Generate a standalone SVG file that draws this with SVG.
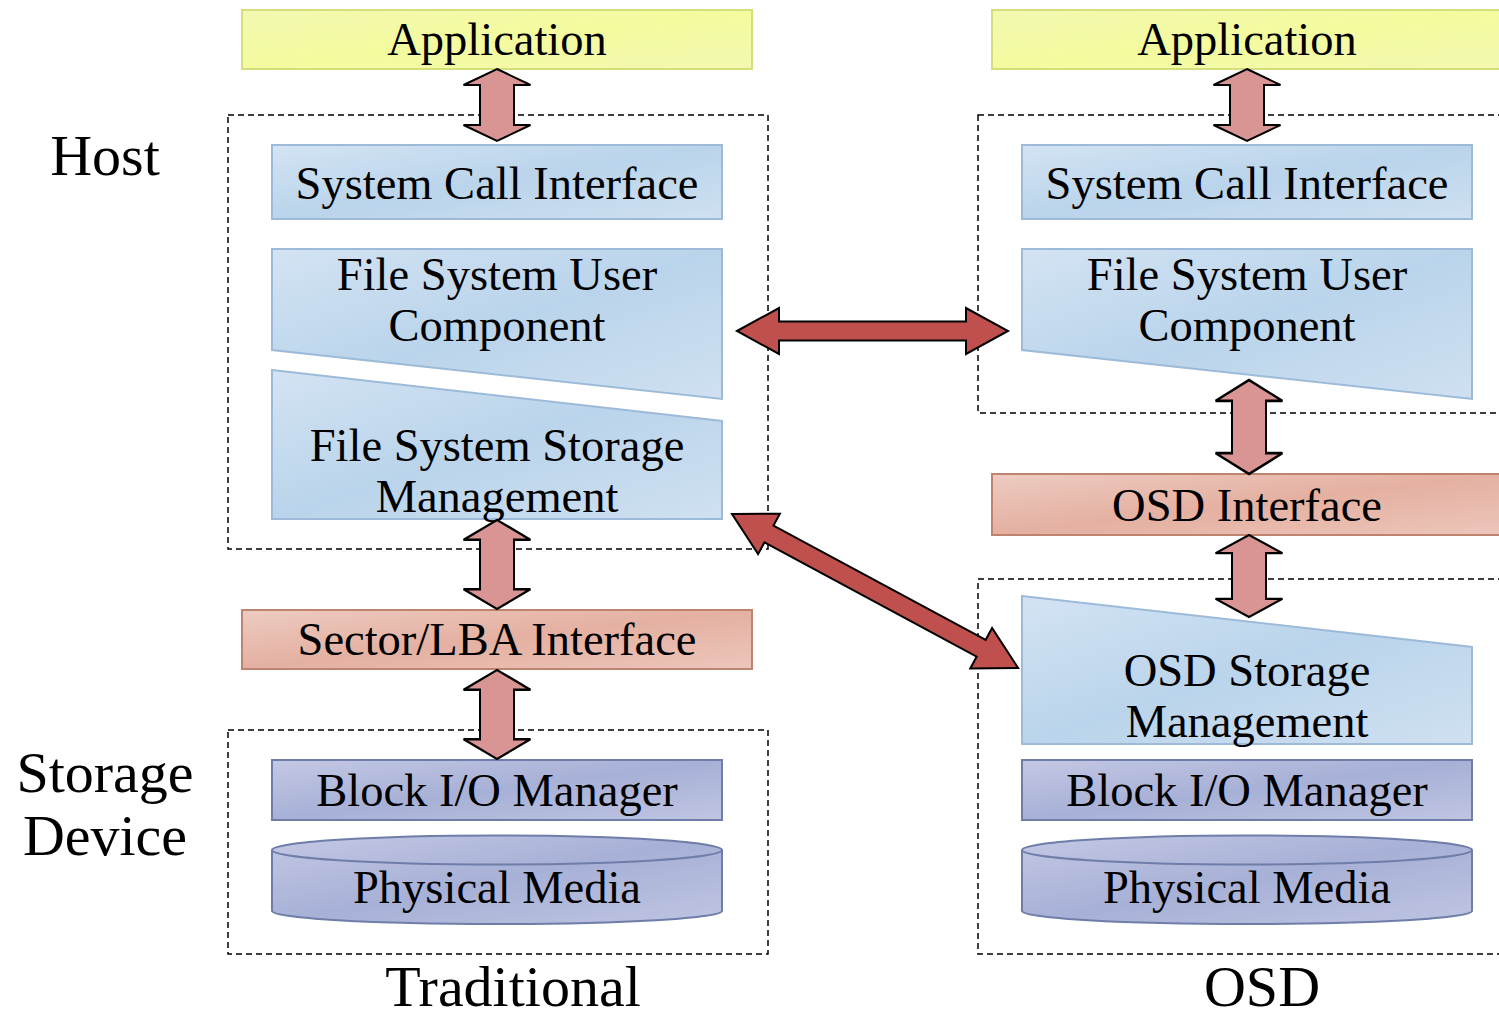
<svg xmlns="http://www.w3.org/2000/svg" width="1499" height="1020" viewBox="0 0 1499 1020">
<defs>
<linearGradient id="gBlue" x1="0" y1="0" x2="1" y2="1">
<stop offset="0" stop-color="#d3e3f3"/><stop offset="0.5" stop-color="#bad4eb"/><stop offset="1" stop-color="#cfe0f1"/>
</linearGradient>
<linearGradient id="gSalmon" x1="0" y1="0" x2="1" y2="1">
<stop offset="0" stop-color="#edcbc1"/><stop offset="0.5" stop-color="#e4b0a1"/><stop offset="1" stop-color="#edc6bb"/>
</linearGradient>
<linearGradient id="gPurple" x1="0" y1="0" x2="1" y2="1">
<stop offset="0" stop-color="#c3c8e4"/><stop offset="0.5" stop-color="#a7b0d6"/><stop offset="1" stop-color="#bfc5e2"/>
</linearGradient>
<linearGradient id="gYellow" x1="0" y1="0" x2="1" y2="1">
<stop offset="0" stop-color="#f2f8b0"/><stop offset="0.5" stop-color="#f4fb9e"/><stop offset="1" stop-color="#f2f8b0"/>
</linearGradient>
<polygon id="vArrow" points="0,0 33.5,16 17,16 17,56 33.5,56 0,72 -33.5,56 -17,56 -17,16 -33.5,16"/>
</defs>
<style>
text{font-family:"Liberation Serif","Times New Roman",serif;fill:#000;text-anchor:middle}
.t{font-size:46.5px}
.lbl{font-size:58px}
.dash{fill:none;stroke:#000;stroke-width:1.5;stroke-dasharray:6 4}
.blue{fill:url(#gBlue);stroke:#9dbbd8;stroke-width:2}
.salmon{fill:url(#gSalmon);stroke:#bf846f;stroke-width:2}
.purple{fill:url(#gPurple);stroke:#6f7da9;stroke-width:2}
.yellow{fill:url(#gYellow);stroke:#d4df7c;stroke-width:2}
.va{fill:#d99594;stroke:#000;stroke-width:2;stroke-linejoin:miter}
.ra{fill:#c0504d;stroke:#000;stroke-width:2;stroke-linejoin:miter}
</style>

<g id="labels">
<text class="lbl" x="105" y="175">Host</text>
<text class="lbl" x="105" y="792">Storage</text>
<text class="lbl" x="105" y="855">Device</text>
<text class="lbl" x="513" y="1006">Traditional</text>
<text class="lbl" x="1262" y="1006">OSD</text>
</g>

<g id="containers">
<rect id="host-trad" class="dash" x="228" y="115" width="540" height="434"/>
<rect id="dev-trad" class="dash" x="228" y="730" width="540" height="224"/>
<rect id="host-osd" class="dash" x="978" y="115" width="560" height="298"/>
<rect id="dev-osd" class="dash" x="978" y="579" width="560" height="375"/>
</g>

<g id="trad-app"><rect class="yellow" x="242" y="10" width="510" height="59"/><text class="t" x="497" y="55">Application</text></g>
<g id="trad-sci"><rect class="blue" x="272" y="145" width="450" height="74"/><text class="t" x="497" y="199">System Call Interface</text></g>
<g id="trad-fsuc"><polygon class="blue" points="272,249 722,249 722,399 272,350"/><text class="t" x="497" y="290">File System User</text><text class="t" x="497" y="341">Component</text></g>
<g id="trad-fssm"><polygon class="blue" points="272,370 722,421 722,519 272,519"/><text class="t" x="497" y="461">File System Storage</text><text class="t" x="497" y="512">Management</text></g>
<g id="trad-lba"><rect class="salmon" x="242" y="610" width="510" height="59"/><text class="t" x="497" y="655">Sector/LBA Interface</text></g>
<g id="trad-bio"><rect class="purple" x="272" y="760" width="450" height="60"/><text class="t" x="497" y="806">Block I/O Manager</text></g>
<g id="trad-pm"><path class="purple" d="M272,850 A225,14.5 0 0 1 722,850 L722,911 A225,13 0 0 1 272,911 Z"/><path d="M272,850 A225,14.5 0 0 0 722,850" fill="none" stroke="#6f7da9" stroke-width="2"/><text class="t" x="497" y="903">Physical Media</text></g>

<g id="osd-app"><rect class="yellow" x="992" y="10" width="512" height="59"/><text class="t" x="1247" y="55">Application</text></g>
<g id="osd-sci"><rect class="blue" x="1022" y="145" width="450" height="74"/><text class="t" x="1247" y="199">System Call Interface</text></g>
<g id="osd-fsuc"><polygon class="blue" points="1022,249 1472,249 1472,399 1022,350"/><text class="t" x="1247" y="290">File System User</text><text class="t" x="1247" y="341">Component</text></g>
<g id="osd-if"><rect class="salmon" x="992" y="474" width="512" height="61"/><text class="t" x="1247" y="521">OSD Interface</text></g>
<g id="osd-sm"><polygon class="blue" points="1022,596 1472,647 1472,744 1022,744"/><text class="t" x="1247" y="686">OSD Storage</text><text class="t" x="1247" y="737">Management</text></g>
<g id="osd-bio"><rect class="purple" x="1022" y="760" width="450" height="60"/><text class="t" x="1247" y="806">Block I/O Manager</text></g>
<g id="osd-pm"><path class="purple" d="M1022,850 A225,14.5 0 0 1 1472,850 L1472,911 A225,13 0 0 1 1022,911 Z"/><path d="M1022,850 A225,14.5 0 0 0 1472,850" fill="none" stroke="#6f7da9" stroke-width="2"/><text class="t" x="1247" y="903">Physical Media</text></g>

<g id="connectors">
<use href="#vArrow" class="va" transform="translate(497,69)"/>
<use href="#vArrow" class="va" transform="translate(497,520) scale(1,1.236)"/>
<use href="#vArrow" class="va" transform="translate(497,670) scale(1,1.236)"/>
<use href="#vArrow" class="va" transform="translate(1247,69)"/>
<use href="#vArrow" class="va" transform="translate(1249,380) scale(1,1.306)"/>
<use href="#vArrow" class="va" transform="translate(1249,535) scale(1,1.139)"/>
<polygon class="ra" points="737,331 779,308 779,321.5 966,321.5 966,308 1008,331 966,354 966,340.5 779,340.5 779,354"/>
<polygon class="ra" transform="translate(732,514) rotate(28.3)" points="0,0 42,-23 42,-9.5 283,-9.5 283,-23 325,0 283,23 283,9.5 42,9.5 42,23"/>
</g>
</svg>
